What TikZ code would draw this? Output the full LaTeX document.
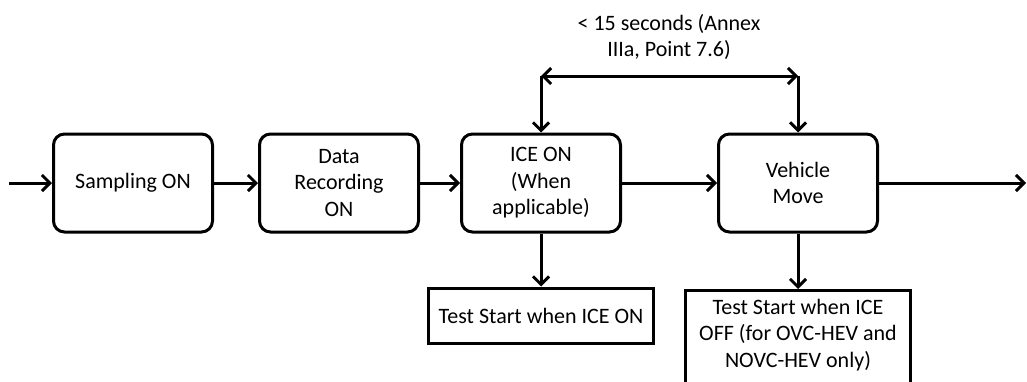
\documentclass[tikz,border=0pt]{standalone}
\usepackage{fontspec}
\setmainfont{Carlito}
\usetikzlibrary{arrows.meta}

\tikzset{
  stepnode/.style={draw, line width=3pt, rounded corners=11pt, align=center,
    minimum width=159pt, minimum height=98pt, inner sep=2pt},
  testnode/.style={draw, line width=3pt, align=center, minimum width=225pt,
    inner sep=2pt},
  flow/.style={line width=3pt, -{Straight Barb[length=8pt,width=16pt,line width=3pt]}},
  both/.style={line width=3pt, {Straight Barb[length=8pt,width=16pt,line width=3pt]}-{Straight Barb[length=8pt,width=16pt,line width=3pt]}}
}

\begin{document}
\begin{tikzpicture}[x=1pt, y=-1pt,
    every node/.style={font=\fontsize{22pt}{26.5pt}\selectfont}]
  \useasboundingbox (0,0) rectangle (1027,381);
  \clip (0,0) rectangle (1027,381);

  % --- main chain ---
  \node[stepnode] (sampling) at (133,183) {Sampling ON};
  \node[stepnode] (recording) at (339,183) {Data\\Recording\\ON};
  \node[stepnode] (ice) at (541,183) {ICE ON\\(When\\applicable)};
  \node[stepnode] (vehicle) at (798,183) {Vehicle\\Move};

  % --- free ends ---
  \coordinate (start) at (9,183);
  \coordinate (finish) at (1026,183);
  \coordinate (spanL) at (541,76);
  \coordinate (spanR) at (798,76);

  \draw[flow] (start) -- (sampling);
  \draw[flow] (sampling) -- (recording);
  \draw[flow] (recording) -- (ice);
  \draw[flow] (ice) -- (vehicle);
  \draw[flow] (vehicle) -- (finish);

  % --- time span ---
  \draw[both] (spanL) -- (spanR);
  \draw[flow] (spanL) -- (ice);
  \draw[flow] (spanR) -- (vehicle);
  \node[align=center] (limit) at (669,37) {< 15 seconds (Annex\\IIIa, Point 7.6)};

  % --- test start boxes ---
  \node[testnode, minimum height=55pt] (teston) at (541,315.5) {Test Start when ICE ON};
  \node[testnode, anchor=north, minimum height=112pt] (testoff) at (798,289)
    {Test Start when ICE\\OFF (for OVC-HEV and\\NOVC-HEV only)\\~};

  \draw[flow] (ice) -- (teston);
  \draw[flow] (vehicle) -- (testoff);
\end{tikzpicture}
\end{document}
